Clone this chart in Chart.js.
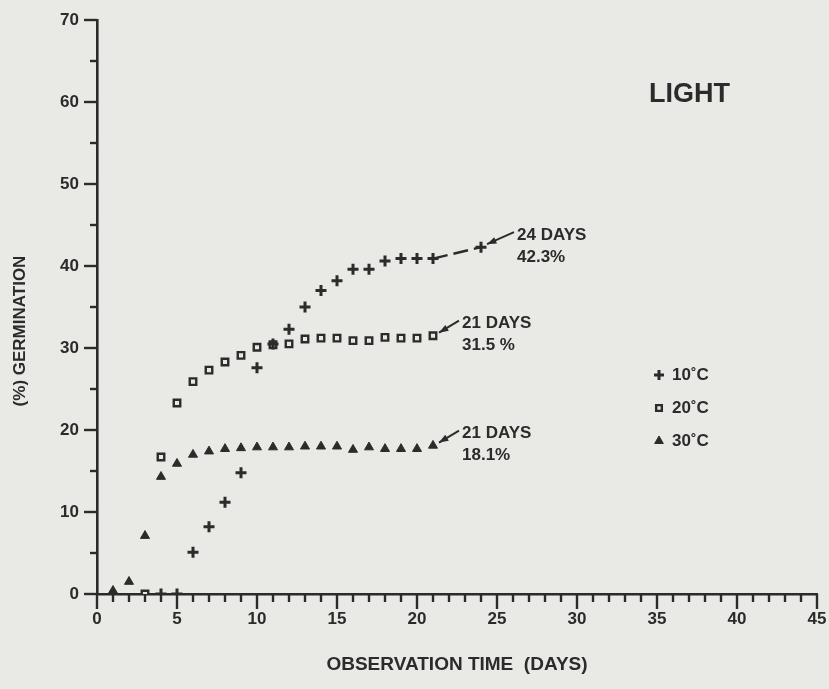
<!DOCTYPE html>
<html>
<head>
<meta charset="utf-8">
<script src="https://cdn.jsdelivr.net/npm/chart.js@4.4.1/dist/chart.umd.min.js"></script>
<style>
  html,body{margin:0;padding:0;background:#e9e9e6;}
  #wrap{width:829px;height:689px;position:relative;}
</style>
</head>
<body>
<div id="wrap"><canvas id="germChart" width="829" height="689"></canvas></div>
<script>
// germination (%) per observation day, one pair of arrays per temperature
const days10 = [4, 5, 6, 7, 8, 9, 10, 11, 12, 13, 14, 15, 16, 17, 18, 19, 20, 21, 24];
const germ10 = [0, 0, 5.1, 8.2, 11.2, 14.8, 27.6, 30.5, 32.3, 35.0, 37.0, 38.2, 39.6, 39.6, 40.6, 40.9, 40.9, 40.9, 42.3];
const days20 = [3, 4, 5, 6, 7, 8, 9, 10, 11, 12, 13, 14, 15, 16, 17, 18, 19, 20, 21];
const germ20 = [0, 16.7, 23.3, 25.9, 27.3, 28.3, 29.1, 30.1, 30.4, 30.5, 31.1, 31.2, 31.2, 30.9, 30.9, 31.3, 31.2, 31.2, 31.5];
const days30 = [1, 2, 3, 4, 5, 6, 7, 8, 9, 10, 11, 12, 13, 14, 15, 16, 17, 18, 19, 20, 21];
const germ30 = [0.4, 1.5, 7.1, 14.3, 15.9, 17.0, 17.4, 17.7, 17.8, 17.9, 17.9, 17.9, 18.0, 18.0, 18.0, 17.6, 17.9, 17.7, 17.7, 17.7, 18.1];

const seriesNames = ['10˚C', '20˚C', '30˚C'];
const finalDayText = ['24 DAYS', '21 DAYS', '21 DAYS'];
const finalPctText = ['42.3%', '31.5 %', '18.1%'];

const INK = '#2b2b2b';
const PAPER = '#e9e9e6';
const FONT = '"Liberation Sans", Arial, sans-serif';

const toPts = (xs, ys) => xs.map((d, i) => ({ x: d, y: ys[i] }));

// hand-drawn style axis ticks: long ticks at labelled values, short ones between
const axisTicks = {
  id: 'axisTicks',
  afterDraw(chart){
    const { ctx, scales: { x, y } } = chart;
    ctx.save();
    ctx.strokeStyle = INK;
    ctx.lineWidth = 2.4;
    const x0 = x.getPixelForValue(0), y0 = y.getPixelForValue(0);
    for(let d = 0; d <= 45; d++){
      const px = x.getPixelForValue(d);
      const len = d % 5 === 0 ? 15 : 8;
      ctx.beginPath(); ctx.moveTo(px, y0); ctx.lineTo(px, y0 + len); ctx.stroke();
    }
    for(let v = 0; v <= 70; v += 5){
      const py = y.getPixelForValue(v);
      const len = v % 10 === 0 ? 13 : 7;
      ctx.beginPath(); ctx.moveTo(x0, py); ctx.lineTo(x0 - len, py); ctx.stroke();
    }
    ctx.restore();
  }
};

// end-point notes, legend, panel label and y title
const notes = {
  id: 'notes',
  afterDraw(chart){
    const { ctx, scales: { x, y } } = chart;
    ctx.save();
    ctx.fillStyle = INK;
    ctx.strokeStyle = INK;

    // y axis title
    ctx.save();
    ctx.translate(20, 331);
    ctx.rotate(-Math.PI / 2);
    ctx.font = `600 17px ${FONT}`;
    ctx.textAlign = 'center';
    ctx.textBaseline = 'middle';
    ctx.fillText('(%) GERMINATION', 0, 0);
    ctx.restore();

    // panel label
    ctx.font = `bold 27px ${FONT}`;
    ctx.textAlign = 'left';
    ctx.textBaseline = 'middle';
    ctx.fillText('LIGHT', 649, 95);

    // arrows to last observation of each series
    const ends = [
      { d: days10, g: germ10, dx: 36 },
      { d: days20, g: germ20, dx: 29 },
      { d: days30, g: germ30, dx: 29 }
    ];
    ends.forEach((e, i) => {
      const n = e.d.length - 1;
      const px = x.getPixelForValue(e.d[n]);
      const py = y.getPixelForValue(e.g[n]);
      const ax = px + 6, ay = py - 3;
      const bx = px + e.dx - 3, by = py - 15;
      ctx.lineWidth = 2;
      ctx.beginPath(); ctx.moveTo(ax, ay); ctx.lineTo(bx, by); ctx.stroke();
      const ang = Math.atan2(ay - by, ax - bx);
      ctx.beginPath();
      ctx.moveTo(ax, ay);
      ctx.lineTo(ax - 10 * Math.cos(ang - 0.35), ay - 10 * Math.sin(ang - 0.35));
      ctx.lineTo(ax - 10 * Math.cos(ang + 0.35), ay - 10 * Math.sin(ang + 0.35));
      ctx.closePath(); ctx.fill();
      ctx.font = `bold 17px ${FONT}`;
      ctx.textBaseline = 'middle';
      ctx.fillText(finalDayText[i], px + e.dx, py - 12);
      ctx.fillText(finalPctText[i], px + e.dx, py + 10);
    });

    // legend
    const ly = [375, 408, 441];
    const lr = [5, 4, 5];
    seriesNames.forEach((name, i) => {
      const ds = chart.data.datasets[i];
      ctx.fillStyle = ds.backgroundColor;
      ctx.strokeStyle = INK;
      ctx.lineWidth = ds.pointBorderWidth;
      Chart.helpers.drawPoint(ctx, {
        pointStyle: ds.pointStyle, radius: lr[i], borderWidth: ds.pointBorderWidth
      }, 659, ly[i]);
      ctx.fillStyle = INK;
      ctx.font = `bold 17px ${FONT}`;
      ctx.textBaseline = 'middle';
      ctx.fillText(name, 672, ly[i]);
    });
    ctx.restore();
  }
};

const ctx = document.getElementById('germChart');
new Chart(ctx, {
  type: 'scatter',
  data: {
    datasets: [
      {
        label: seriesNames[0], data: toPts(days10, germ10),
        pointStyle: 'cross', pointRadius: 5.5, pointBorderWidth: 3,
        borderColor: INK, backgroundColor: INK,
        showLine: true, borderWidth: 2.4, borderDash: [15, 6],
        segment: { borderColor: c => c.p0.parsed.x === 21 && c.p1.parsed.x === 24 ? INK : 'transparent' }
      },
      {
        label: seriesNames[1], data: toPts(days20, germ20),
        pointStyle: 'rect', pointRadius: 4.6, pointBorderWidth: 2.4,
        borderColor: INK, backgroundColor: PAPER
      },
      {
        label: seriesNames[2], data: toPts(days30, germ30),
        pointStyle: 'triangle', pointRadius: 5.2, pointBorderWidth: 1,
        borderColor: INK, backgroundColor: INK
      }
    ]
  },
  options: {
    responsive: false,
    animation: false,
    layout: { padding: { top: 20, right: 12, left: 0, bottom: 0 } },
    plugins: { legend: { display: false }, tooltip: { enabled: false } },
    scales: {
      x: {
        type: 'linear', min: 0, max: 45,
        afterFit: s => { s.height = 95; s.paddingLeft = 0; s.paddingRight = 0; },
        grid: { display: false, drawTicks: false },
        border: { display: true, color: INK, width: 2.6 },
        ticks: { stepSize: 5, padding: 15, color: INK, font: { family: FONT, size: 17, weight: 'bold' }, maxRotation: 0 },
        title: { display: true, text: 'OBSERVATION TIME  (DAYS)', color: INK, padding: { top: 0, bottom: 13 }, font: { family: FONT, size: 19, weight: '600' } }
      },
      y: {
        type: 'linear', min: 0, max: 70,
        afterFit: s => { s.width = 97; s.paddingTop = 0; s.paddingBottom = 0; },
        grid: { display: false, drawTicks: false },
        border: { display: true, color: INK, width: 2.6 },
        ticks: { stepSize: 10, padding: 18, color: INK, font: { family: FONT, size: 17, weight: 'bold' } }
      }
    }
  },
  plugins: [axisTicks, notes]
});
</script>
</body>
</html>
